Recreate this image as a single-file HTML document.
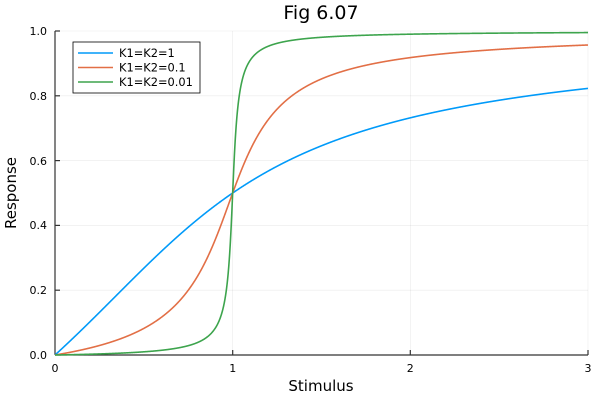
<!DOCTYPE html>
<html><head><style>body{margin:0;background:#fff}svg{display:block;font-family:"DejaVu Sans","Liberation Sans",sans-serif}</style></head>
<body>
<svg id="s" width="600" height="400" xmlns="http://www.w3.org/2000/svg">
<rect width="600" height="400" fill="#fff"/>
<g stroke="#000" stroke-opacity="0.08" stroke-width="0.6">
<line x1="55" y1="31" x2="588" y2="31"/><line x1="55" y1="95.8" x2="588" y2="95.8"/><line x1="55" y1="160.6" x2="588" y2="160.6"/><line x1="55" y1="225.4" x2="588" y2="225.4"/><line x1="55" y1="290.2" x2="588" y2="290.2"/>
<line x1="232.7" y1="31" x2="232.7" y2="355"/><line x1="410.3" y1="31" x2="410.3" y2="355"/><line x1="588" y1="31" x2="588" y2="355"/>
</g>
<g stroke="#333" stroke-width="1.2">
<line x1="55" y1="355" x2="588" y2="355"/><line x1="55" y1="31" x2="55" y2="355"/>
<line x1="55" y1="31" x2="60" y2="31"/><line x1="55" y1="95.8" x2="60" y2="95.8"/><line x1="55" y1="160.6" x2="60" y2="160.6"/><line x1="55" y1="225.4" x2="60" y2="225.4"/><line x1="55" y1="290.2" x2="60" y2="290.2"/>
<line x1="232.7" y1="355" x2="232.7" y2="350"/><line x1="410.3" y1="355" x2="410.3" y2="350"/><line x1="588" y1="355" x2="588" y2="350"/>
</g>
<g font-size="11" fill="#000" text-anchor="end">
<text x="47" y="35">1.0</text><text x="47" y="100">0.8</text><text x="47" y="165">0.6</text><text x="47" y="229">0.4</text><text x="47" y="294">0.2</text><text x="47" y="359">0.0</text>
</g>
<g font-size="11" fill="#000" text-anchor="middle">
<text x="55" y="372">0</text><text x="232.7" y="372">1</text><text x="410.3" y="372">2</text><text x="588" y="372">3</text>
</g>
<text x="321" y="391" font-size="15" text-anchor="middle">Stimulus</text>
<text x="16" y="193" font-size="15" text-anchor="middle" transform="rotate(-90 16 193)">Response</text>
<text x="321" y="19" font-size="19" text-anchor="middle">Fig 6.07</text>
<g id="curves" fill="none" stroke-width="1.6"></g>
<rect x="73" y="42" width="127" height="51" fill="#fff" stroke="#000" stroke-width="0.8"/>
<line x1="78" y1="53" x2="113" y2="53" stroke="#009af9" stroke-width="1.6"/>
<line x1="78" y1="67.5" x2="113" y2="67.5" stroke="#e26f46" stroke-width="1.6"/>
<line x1="78" y1="82" x2="113" y2="82" stroke="#3da44d" stroke-width="1.6"/>
<g font-size="11.4" fill="#000"><text x="119" y="57">K1=K2=1</text><text x="119" y="71.5">K1=K2=0.1</text><text x="119" y="86">K1=K2=0.01</text></g>
</svg>
<script>
var g=document.getElementById('curves');
function G(u,K){var v=1,B=v-u+v*K+u*K;return 2*u*K/(B+Math.sqrt(B*B-4*(v-u)*u*K));}
[[1,'#009af9'],[0.1,'#e26f46'],[0.01,'#3da44d']].forEach(function(c){
var d='';for(var i=0;i<=3000;i++){var u=i/1000;var y=u==0?0:G(u,c[0]);
d+=(i?'L':'M')+(55+u*177.667).toFixed(2)+' '+(355-y*324).toFixed(2);}
var p=document.createElementNS('http://www.w3.org/2000/svg','path');p.setAttribute('d',d);p.setAttribute('stroke',c[1]);g.appendChild(p);});
</script>
</body></html>
